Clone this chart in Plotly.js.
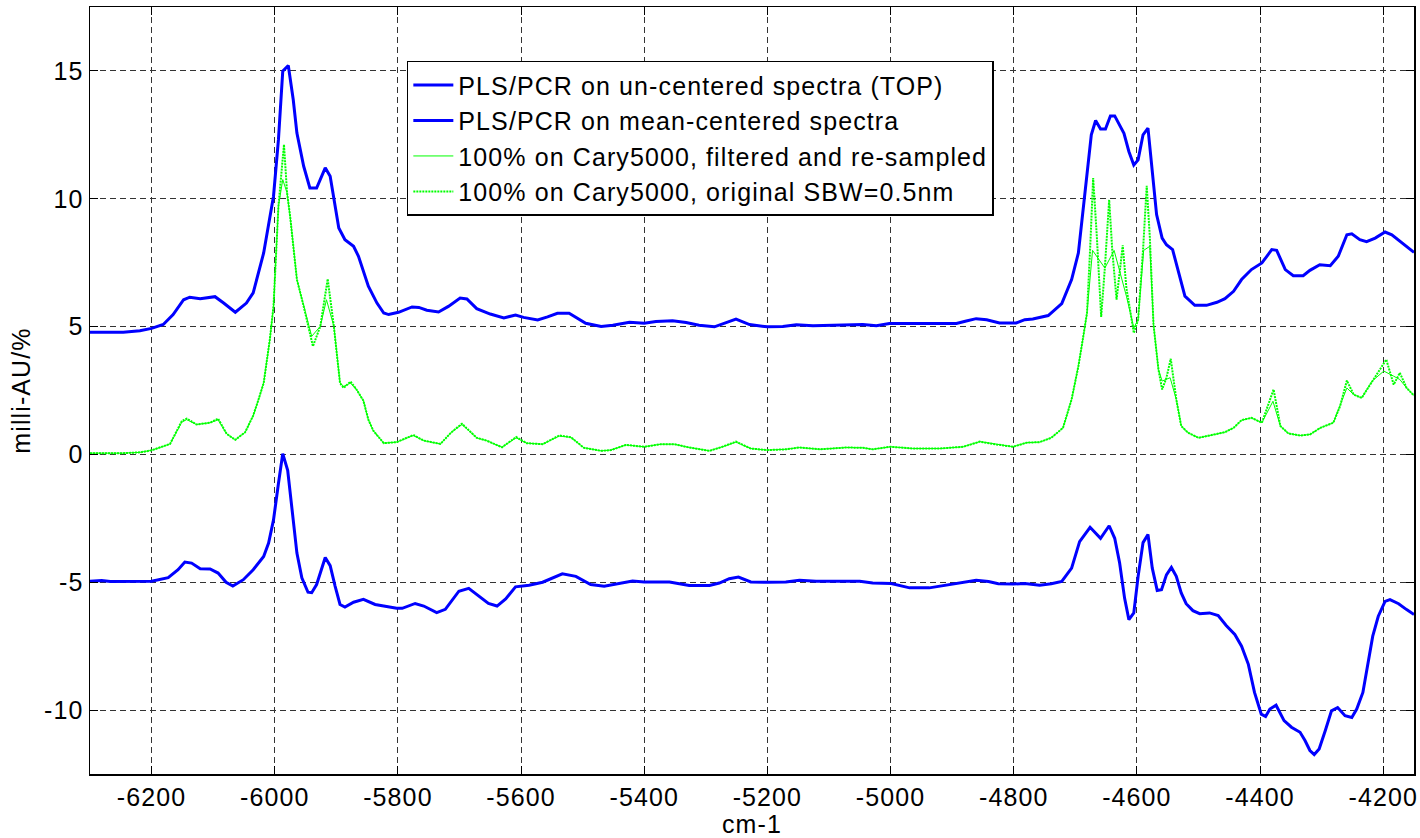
<!DOCTYPE html>
<html>
<head>
<meta charset="utf-8">
<script src="https://cdn.plot.ly/plotly-3.0.1.min.js"></script>
<style>
html,body{margin:0;padding:0;background:#fff;}
#chart{width:1420px;height:838px;}
svg text{letter-spacing:1.1px;}
</style>
</head>
<body>
<div id="chart"></div>
<script>
// ---- data (wavenumber in cm-1, values in milli-AU/%) ----
const topX = [-6300,-6246,-6219,-6200,-6181,-6165,-6148,-6138,-6121,-6097,-6083,-6064,-6046,-6035,-6018,-6002,-5994,-5987,-5978,-5970,-5964,-5953,-5943,-5932,-5918,-5910,-5896,-5886,-5872,-5864,-5848,-5834,-5823,-5815,-5799,-5777,-5766,-5753,-5734,-5718,-5699,-5688,-5672,-5650,-5628,-5609,-5596,-5573,-5557,-5541,-5522,-5495,-5470,-5451,-5424,-5400,-5381,-5354,-5332,-5311,-5286,-5267,-5251,-5229,-5200,-5175,-5153,-5126,-5099,-5072,-5045,-5023,-5002,-4964,-4893,-4877,-4861,-4844,-4823,-4796,-4782,-4769,-4744,-4722,-4706,-4695,-4685,-4674,-4667,-4659,-4651,-4643,-4636,-4628,-4621,-4613,-4605,-4598,-4590,-4582,-4576,-4568,-4559,-4552,-4542,-4533,-4522,-4506,-4487,-4470,-4457,-4443,-4430,-4414,-4397,-4389,-4381,-4373,-4359,-4346,-4330,-4319,-4303,-4286,-4273,-4259,-4251,-4238,-4227,-4213,-4197,-4186,-4167,-4150];
const topY = [4.78,4.78,4.84,4.93,5.08,5.47,6.05,6.15,6.09,6.17,5.92,5.56,5.92,6.32,7.88,10.10,12.31,14.99,15.21,13.88,12.57,11.27,10.42,10.42,11.21,10.88,8.86,8.40,8.14,7.75,6.58,5.92,5.53,5.47,5.56,5.77,5.75,5.64,5.57,5.79,6.12,6.08,5.70,5.49,5.34,5.45,5.36,5.26,5.38,5.52,5.52,5.13,5.00,5.05,5.17,5.13,5.20,5.23,5.16,5.05,4.99,5.16,5.29,5.08,4.99,5.00,5.07,5.03,5.05,5.08,5.08,5.03,5.12,5.12,5.12,5.22,5.31,5.27,5.14,5.14,5.27,5.30,5.43,5.90,6.84,7.88,10.09,12.50,13.06,12.73,12.73,13.24,13.24,12.89,12.56,11.85,11.32,11.52,12.50,12.76,11.20,9.38,8.46,8.20,8.01,7.23,6.19,5.83,5.83,5.95,6.09,6.38,6.84,7.23,7.49,7.75,8.01,7.98,7.23,6.99,6.99,7.20,7.42,7.38,7.75,8.59,8.63,8.40,8.32,8.46,8.70,8.59,8.24,7.90];

const meanX = [-6300,-6281,-6267,-6200,-6173,-6157,-6146,-6135,-6121,-6105,-6092,-6079,-6068,-6051,-6035,-6018,-6010,-6002,-5994,-5987,-5979,-5971,-5964,-5956,-5946,-5940,-5932,-5918,-5910,-5902,-5894,-5886,-5872,-5856,-5837,-5823,-5802,-5793,-5772,-5758,-5737,-5723,-5701,-5685,-5669,-5653,-5639,-5625,-5609,-5596,-5587,-5565,-5549,-5533,-5511,-5487,-5465,-5443,-5419,-5400,-5359,-5327,-5294,-5278,-5262,-5247,-5227,-5200,-5170,-5148,-5121,-5050,-5029,-4999,-4969,-4937,-4915,-4882,-4861,-4841,-4825,-4801,-4782,-4758,-4739,-4722,-4706,-4693,-4676,-4659,-4645,-4636,-4628,-4620,-4613,-4605,-4598,-4590,-4582,-4575,-4567,-4560,-4552,-4544,-4536,-4528,-4520,-4509,-4498,-4482,-4468,-4455,-4441,-4430,-4419,-4409,-4398,-4391,-4384,-4374,-4361,-4349,-4335,-4327,-4319,-4312,-4304,-4294,-4284,-4274,-4262,-4251,-4243,-4233,-4226,-4217,-4208,-4197,-4189,-4175,-4162,-4150];
const meanY = [-4.96,-4.93,-4.97,-4.96,-4.82,-4.51,-4.21,-4.25,-4.47,-4.48,-4.64,-5.00,-5.15,-4.90,-4.51,-3.99,-3.47,-2.56,-1.14,0.03,-0.62,-2.31,-3.86,-4.83,-5.39,-5.41,-5.09,-4.03,-4.35,-5.15,-5.87,-5.97,-5.78,-5.67,-5.87,-5.93,-6.02,-6.02,-5.83,-5.93,-6.19,-6.06,-5.35,-5.24,-5.54,-5.83,-5.93,-5.65,-5.18,-5.13,-5.12,-5.00,-4.83,-4.67,-4.77,-5.09,-5.16,-5.05,-4.95,-4.99,-4.99,-5.13,-5.13,-5.03,-4.86,-4.80,-4.99,-5.00,-4.99,-4.92,-4.96,-4.96,-5.03,-5.05,-5.22,-5.22,-5.13,-5.00,-4.92,-4.97,-5.06,-5.07,-5.05,-5.12,-5.06,-4.97,-4.45,-3.41,-2.85,-3.28,-2.79,-3.28,-4.25,-5.62,-6.46,-6.20,-4.77,-3.45,-3.13,-4.45,-5.32,-5.29,-4.71,-4.42,-4.77,-5.42,-5.84,-6.11,-6.23,-6.20,-6.30,-6.69,-7.04,-7.50,-8.21,-9.31,-10.16,-10.25,-9.96,-9.81,-10.41,-10.67,-10.87,-11.19,-11.58,-11.74,-11.52,-10.80,-10.03,-9.90,-10.22,-10.29,-9.96,-9.31,-8.27,-7.11,-6.33,-5.75,-5.68,-5.84,-6.07,-6.26];

const filtX = [-6300,-6246,-6219,-6200,-6170,-6151,-6143,-6127,-6105,-6092,-6078,-6064,-6048,-6035,-6027,-6018,-6008,-6002,-5994,-5987,-5980,-5975,-5964,-5953,-5940,-5926,-5916,-5904,-5894,-5888,-5877,-5867,-5856,-5848,-5840,-5823,-5802,-5775,-5758,-5731,-5713,-5696,-5672,-5656,-5631,-5608,-5591,-5565,-5538,-5519,-5498,-5470,-5454,-5430,-5400,-5373,-5351,-5327,-5294,-5273,-5251,-5227,-5200,-5170,-5148,-5115,-5072,-5045,-5029,-5000,-4964,-4920,-4882,-4855,-4828,-4801,-4779,-4758,-4739,-4720,-4706,-4695,-4687,-4681,-4672,-4661,-4652,-4637,-4617,-4605,-4598,-4589,-4579,-4573,-4565,-4559,-4546,-4536,-4528,-4517,-4500,-4481,-4457,-4443,-4430,-4414,-4397,-4379,-4367,-4354,-4335,-4319,-4302,-4281,-4270,-4259,-4248,-4235,-4218,-4199,-4183,-4173,-4162,-4150];
const filtY = [0.05,0.05,0.08,0.16,0.41,1.26,1.36,1.17,1.24,1.35,0.80,0.57,0.87,1.52,2.10,2.79,4.49,5.79,9.71,10.75,10.23,9.31,6.84,5.79,4.62,5.01,6.05,5.01,2.79,2.66,2.79,2.53,2.10,1.36,0.93,0.44,0.48,0.74,0.54,0.41,0.87,1.17,0.65,0.54,0.28,0.65,0.44,0.40,0.72,0.67,0.26,0.14,0.17,0.37,0.30,0.40,0.40,0.27,0.14,0.30,0.48,0.23,0.17,0.20,0.27,0.20,0.27,0.26,0.20,0.30,0.23,0.23,0.30,0.50,0.39,0.30,0.46,0.48,0.65,1.04,2.15,3.45,4.62,5.53,7.98,7.62,7.29,7.98,6.19,4.95,5.27,7.98,8.14,5.08,3.32,2.87,3.00,2.15,1.11,0.85,0.65,0.74,0.87,1.04,1.34,1.43,1.24,2.08,1.11,0.82,0.74,0.78,1.04,1.24,1.89,2.60,2.34,2.21,2.87,3.26,3.06,2.93,2.60,2.30];

const origX = [-6300,-6246,-6219,-6200,-6170,-6151,-6143,-6127,-6105,-6092,-6078,-6064,-6048,-6035,-6027,-6018,-6008,-6002,-5994,-5985,-5980,-5975,-5964,-5953,-5938,-5926,-5914,-5904,-5894,-5888,-5877,-5867,-5856,-5848,-5840,-5823,-5802,-5775,-5758,-5731,-5713,-5696,-5672,-5656,-5631,-5608,-5591,-5565,-5538,-5519,-5498,-5470,-5454,-5430,-5400,-5373,-5351,-5327,-5294,-5273,-5251,-5227,-5200,-5170,-5148,-5115,-5072,-5045,-5029,-5000,-4964,-4920,-4882,-4855,-4828,-4801,-4779,-4758,-4739,-4720,-4706,-4695,-4687,-4681,-4676,-4671,-4665,-4658,-4652,-4645,-4640,-4633,-4623,-4617,-4610,-4605,-4598,-4590,-4584,-4579,-4573,-4565,-4559,-4552,-4545,-4536,-4528,-4517,-4500,-4481,-4457,-4443,-4430,-4414,-4397,-4378,-4367,-4354,-4335,-4319,-4302,-4281,-4270,-4259,-4248,-4235,-4218,-4195,-4183,-4173,-4162,-4150];
const origY = [0.05,0.05,0.08,0.16,0.41,1.30,1.40,1.17,1.24,1.40,0.80,0.57,0.87,1.52,2.10,2.79,4.49,5.79,9.71,12.12,10.23,9.31,6.84,5.79,4.23,5.01,6.86,5.01,2.79,2.60,2.85,2.53,2.10,1.36,0.93,0.44,0.48,0.76,0.54,0.41,0.87,1.20,0.65,0.54,0.28,0.68,0.44,0.40,0.74,0.67,0.26,0.14,0.17,0.37,0.30,0.40,0.40,0.27,0.14,0.30,0.50,0.23,0.17,0.20,0.27,0.20,0.27,0.26,0.20,0.30,0.23,0.23,0.30,0.50,0.39,0.30,0.46,0.48,0.65,1.04,2.15,3.45,4.62,5.53,8.00,10.81,8.50,5.38,7.30,9.96,8.00,6.05,8.18,6.50,5.50,4.75,5.27,8.00,10.51,8.50,5.08,3.32,2.54,3.00,3.74,2.15,1.11,0.85,0.65,0.74,0.87,1.04,1.34,1.43,1.24,2.54,1.11,0.82,0.74,0.78,1.04,1.24,1.89,2.89,2.34,2.21,2.87,3.71,2.73,3.19,2.60,2.30];

const seriesNames = [
  'PLS/PCR on un-centered spectra (TOP)',
  'PLS/PCR on mean-centered spectra',
  '100% on Cary5000, filtered and re-sampled',
  '100% on Cary5000, original SBW=0.5nm'
];
const xTicks = [-6200,-6000,-5800,-5600,-5400,-5200,-5000,-4800,-4600,-4400,-4200];
const yTicks = [-10,-5,0,5,10,15];

const FONT = 'Liberation Sans, Arial, Helvetica, sans-serif';
const FS = 25;
const BLUE = '#0000ff', GREEN = '#00ff00';

const traces = [
  {x: topX, y: topY, name: seriesNames[0], mode: 'lines', legendgroup: 'a',
   line: {color: BLUE, width: 3}},
  {x: meanX, y: meanY, name: seriesNames[1], mode: 'lines', legendgroup: 'b',
   line: {color: BLUE, width: 3}},
  {x: filtX, y: filtY, name: seriesNames[2], mode: 'lines', legendgroup: 'c',
   line: {color: GREEN, width: 1}},
  {x: origX, y: origY, name: seriesNames[3], mode: 'lines', legendgroup: 'd',
   line: {color: GREEN, width: 2, dash: '2px,1px'}}
];

const axisCommon = {
  showline: true, linecolor: '#000', linewidth: 1.5, mirror: 'ticks',
  ticks: 'inside', ticklen: 8, tickwidth: 1, tickcolor: '#000',
  showgrid: true, gridcolor: '#333', gridwidth: 1, griddash: '6px,4px',
  zeroline: false,
  tickfont: {family: FONT, size: FS, color: '#000'}
};

const layout = {
  width: 1420, height: 838,
  margin: {l: 90, r: 6, t: 7, b: 64},
  paper_bgcolor: '#fff', plot_bgcolor: '#fff',
  showlegend: true,
  xaxis: Object.assign({}, axisCommon, {
    range: [-6300, -4150], tickvals: xTicks, ticktext: xTicks.map(String),
    title: {text: 'cm-1', font: {family: FONT, size: FS, color: '#000'}, standoff: 0}
  }),
  yaxis: Object.assign({}, axisCommon, {
    range: [-12.5, 17.5], tickvals: yTicks, ticktext: yTicks.map(String),
    title: {text: 'milli-AU/%', font: {family: FONT, size: FS, color: '#000'}, standoff: 6}
  }),
  legend: {
    x: 0.2393, y: 0.9300, xanchor: 'left', yanchor: 'top',
    bgcolor: '#fff', bordercolor: '#000', borderwidth: 1.5,
    font: {family: FONT, size: FS, color: '#000'},
    itemwidth: 40, traceorder: 'grouped', tracegroupgap: 0
  }
};

Plotly.newPlot('chart', traces, layout, {displayModeBar: false, staticPlot: true});
</script>
</body>
</html>
